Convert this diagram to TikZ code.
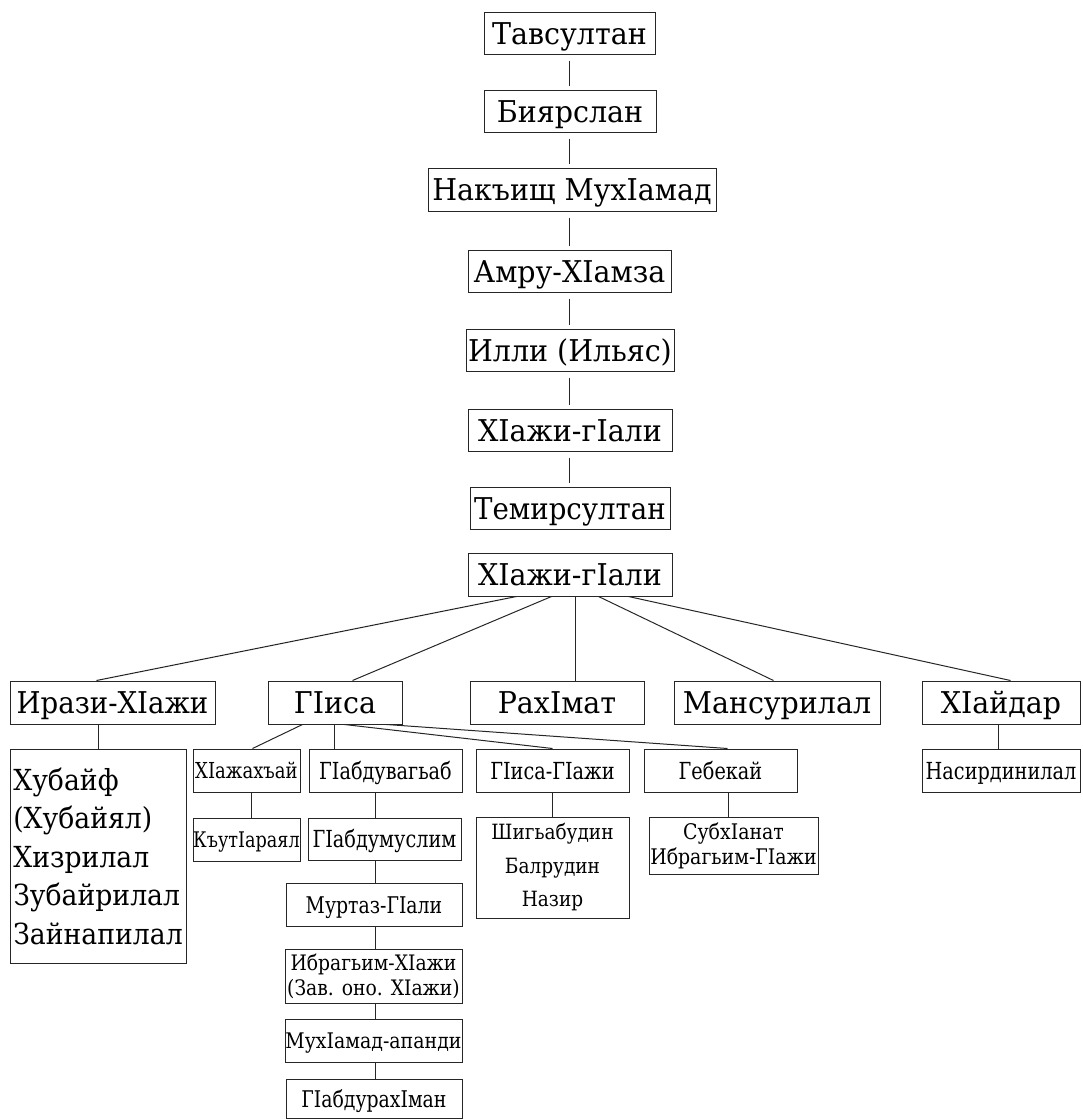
\documentclass[tikz,border=0pt]{standalone}
\usepackage{fontspec}
\setmainfont{DejaVu Serif}
\newfontfamily\bigf[FakeStretch=0.95]{DejaVu Serif}
\newfontfamily\listf[FakeStretch=0.92]{DejaVu Serif}
\newfontfamily\smf[FakeStretch=0.82]{DejaVu Serif}
\newfontfamily\midf[FakeStretch=0.88]{DejaVu Serif}
\tikzset{
  box/.style={draw=black!85, line width=1pt, inner sep=0pt},
  conn/.style={draw=black!85, line width=1pt},
  big/.style={font=\bigf\fontsize{30}{36}\selectfont, text height=22pt, text depth=0pt},
  bigl/.style={font=\listf\fontsize{30}{36}\selectfont, text height=22pt, text depth=0pt},
  sm/.style={font=\smf\fontsize{#1}{#1}\selectfont, text depth=0pt},
  md/.style={font=\midf\fontsize{#1}{#1}\selectfont, text depth=0pt},
  th/.style={text height=#1},
  multi/.style={align=center},
}
\newcommand\famnode[7][]{\node[box,#1,minimum width={(#5-#3)*1pt},minimum height={(#6-#4)*1pt}] (#2) at ({(#3+#5)/2},{(#4+#6)/2}) {#7};}
\begin{document}
\begin{tikzpicture}[x=1pt,y=-1pt]
\useasboundingbox (0,0) rectangle (1082,1119);
% top chain
\famnode[big]{t1}{484}{12}{655}{54}{Тавсултан}
\famnode[big]{t2}{484}{90}{656}{132}{Биярслан}
\famnode[big]{t3}{428}{168}{716}{211}{Накъищ МухIамад}
\famnode[big]{t4}{468}{250}{671}{292}{Амру-ХIамза}
\famnode[big]{t5}{466}{329}{674}{371}{Илли (Ильяс)}
\famnode[big]{t6}{468}{409}{672}{451}{ХIажи-гIали}
\famnode[bigl]{t7}{470}{487}{670}{529}{Темирсултан}
\famnode[big]{r}{468}{553}{672}{596}{ХIажи-гIали}
% children
\famnode[bigl]{c1}{10}{681}{215}{724}{Ирази-ХIажи}
\famnode[big]{c2}{268}{681}{402}{724}{ГIиса}
\famnode[big]{c3}{470}{681}{644}{724}{РахIмат}
\famnode[big]{c4}{674}{681}{880}{724}{Мансурилал}
\famnode[big]{c5}{922}{681}{1080}{724}{ХIайдар}
% grandchildren
\famnode[font=\listf\fontsize{29}{38.5}\selectfont, align=left]{g1}{10}{749}{186}{963}{Хубайф\\(Хубайял)\\Хизрилал\\Зубайрилал\\Зайнапилал}
\famnode[sm=22, th=16.5pt]{g2}{193}{749}{300}{792}{ХIажахъай}
\famnode[sm=23.5, th=17pt]{g3}{309}{749}{462}{792}{ГIабдувагьаб}
\famnode[sm=23.5, th=17pt]{g4}{476}{749}{629}{792}{ГIиса-ГIажи}
\famnode[sm=23.5, th=17pt]{g5}{644}{749}{797}{792}{Гебекай}
\famnode[sm=23.5, th=17pt]{g6}{922}{749}{1080}{792}{Насирдинилал}
\famnode[sm=21.5, th=16pt]{h2}{193}{818}{300}{861}{КъутIараял}
\famnode[sm=23.5, th=17pt]{h3}{308}{818}{461}{860}{ГIабдумуслим}
\famnode[font=\midf\fontsize{21}{33.5}\selectfont, multi]{h4}{476}{817}{629}{918}{Шигьабудин\\Балрудин\\Назир}
\famnode[font=\midf\fontsize{21.5}{25}\selectfont, multi]{h5}{649}{817}{818}{874}{СубхIанат\\Ибрагьим-ГIажи}
\famnode[sm=23, th=17pt]{i3}{286}{883}{462}{926}{Муртаз-ГIали}
\famnode[font=\midf\fontsize{21.3}{25}\selectfont, multi]{j3}{285}{949}{462}{1003}{Ибрагьим-ХIажи\\(Зав. оно. ХIажи)}
\famnode[md=21.5, th=16pt]{k3}{285}{1019}{462}{1062}{МухIамад-апанди}
\famnode[sm=23, th=17pt]{l3}{286}{1079}{462}{1118}{ГIабдурахIман}
% chain connectors
\foreach \a/\b in {t1/t2,t2/t3,t3/t4,t4/t5,t5/t6,t6/t7}
  \draw[conn, shorten <=6pt, shorten >=4pt] (t1.south |- \a.south) -- (t1.south |- \b.north);
% root to children
\draw[conn] ([xshift=49pt]r.south west) -- ([xshift=87pt]c1.north west);
\draw[conn] ([xshift=84pt]r.south west) -- ([xshift=85pt]c2.north west);
\draw[conn] ([xshift=108pt]r.south west) -- ([xshift=106pt]c3.north west);
\draw[conn] ([xshift=131pt]r.south west) -- ([xshift=100pt]c4.north west);
\draw[conn] ([xshift=161pt]r.south west) -- ([xshift=89pt]c5.north west);
% children to grandchildren
\draw[conn] ([xshift=89pt]c1.south west) -- ([xshift=89pt]g1.north west);
\draw[conn] ([xshift=35pt]c2.south west) -- ([xshift=60pt]g2.north west);
\draw[conn] ([xshift=67pt]c2.south west) -- ([xshift=26pt]g3.north west);
\draw[conn] ([xshift=77pt]c2.south west) -- ([xshift=77pt]g4.north west);
\draw[conn] ([xshift=119pt]c2.south west) -- ([xshift=84pt]g5.north west);
\draw[conn] ([xshift=77pt]c5.south west) -- ([xshift=77pt]g6.north west);
% lower levels
\draw[conn] ([xshift=59pt]g2.south west) -- ([xshift=59pt]h2.north west);
\draw[conn] ([xshift=67pt]g3.south west) -- ([xshift=68pt]h3.north west);
\draw[conn] ([xshift=68pt]h3.south west) -- ([xshift=90pt]i3.north west);
\draw[conn] ([xshift=90pt]i3.south west) -- ([xshift=91pt]j3.north west);
\draw[conn] ([xshift=91pt]j3.south west) -- ([xshift=91pt]k3.north west);
\draw[conn] ([xshift=91pt]k3.south west) -- ([xshift=90pt]l3.north west);
\draw[conn] ([xshift=77pt]g4.south west) -- ([xshift=77pt]h4.north west);
\draw[conn] ([xshift=85pt]g5.south west) -- ([xshift=80pt]h5.north west);
\end{tikzpicture}
\end{document}
